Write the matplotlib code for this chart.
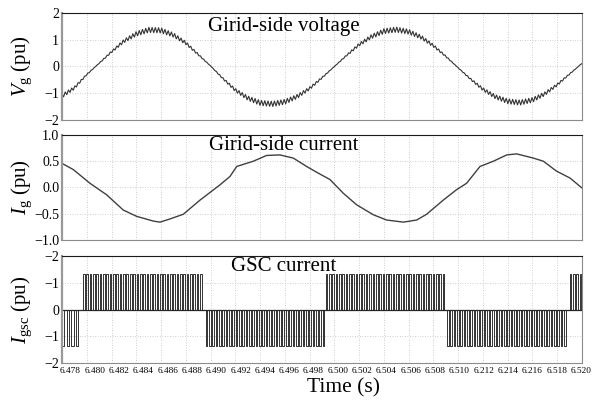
import numpy as np
import matplotlib
matplotlib.use("Agg")
import matplotlib.pyplot as plt

plt.rcParams["font.family"] = ["Liberation Serif", "DejaVu Serif"]
plt.rcParams["mathtext.fontset"] = "custom"
plt.rcParams["mathtext.rm"] = "Liberation Serif"
plt.rcParams["mathtext.it"] = "Liberation Serif:italic"

# time axis
t_min, t_max = 6.478, 6.520
x_ticks = [6.478, 6.480, 6.482, 6.484, 6.486, 6.488, 6.490, 6.492, 6.494, 6.496, 6.498,
           6.500, 6.502, 6.504, 6.506, 6.508, 6.510, 6.512, 6.514, 6.516, 6.518, 6.520]
x_tick_labels = ["6.478", "6.480", "6.482", "6.484", "6.486", "6.488", "6.490", "6.492",
                 "6.494", "6.496", "6.498", "6.500", "6.502", "6.504", "6.506", "6.508",
                 "6.510", "6.212", "6.214", "6.216", "6.518", "6.520"]

# grid-side voltage, read every 1 ms (mean of the rippled trace)
v_time = [6.478, 6.479, 6.480, 6.481, 6.482, 6.483, 6.484, 6.485, 6.486, 6.487, 6.488,
          6.489, 6.490, 6.491, 6.492, 6.493, 6.494, 6.495, 6.496, 6.497, 6.498, 6.499,
          6.500, 6.501, 6.502, 6.503, 6.504, 6.505, 6.506, 6.507, 6.508, 6.509, 6.510,
          6.511, 6.512, 6.513, 6.514, 6.515, 6.516, 6.517, 6.518, 6.519, 6.520]
v_grid = [-1.10, -0.80, -0.30, 0.12, 0.55, 0.95, 1.22, 1.37, 1.35, 1.18, 0.88,
          0.45, 0.02, -0.45, -0.88, -1.18, -1.36, -1.40, -1.32, -1.12, -0.82, -0.42,
          0.00, 0.42, 0.82, 1.12, 1.32, 1.38, 1.30, 1.10, 0.78, 0.38, -0.05,
          -0.47, -0.85, -1.13, -1.30, -1.35, -1.25, -1.02, -0.68, -0.28, 0.12]
# switching ripple on the voltage (fraction of |v|) and carrier period read from the zigzag
ripple_gain = 0.07
carrier_period = 0.00026

# grid-side current
i_time = [6.47800, 6.47892, 6.48026, 6.48161, 6.48295, 6.48403, 6.48538, 6.48592, 6.48672,
          6.48780, 6.48915, 6.49076, 6.49157, 6.49211, 6.49345, 6.49453, 6.49561, 6.49668,
          6.49776, 6.49857, 6.49965, 6.50072, 6.50180, 6.50315, 6.50422, 6.50557, 6.50665,
          6.50745, 6.50880, 6.50988, 6.51068, 6.51176, 6.51284, 6.51392, 6.51472, 6.51607,
          6.51688, 6.51795, 6.51903, 6.52000]
i_grid = [0.46, 0.34, 0.08, -0.14, -0.43, -0.55, -0.64, -0.66, -0.60,
          -0.51, -0.24, 0.05, 0.21, 0.40, 0.50, 0.61, 0.62, 0.56,
          0.40, 0.29, 0.15, -0.11, -0.33, -0.52, -0.62, -0.66, -0.62,
          -0.51, -0.24, -0.04, 0.08, 0.40, 0.50, 0.62, 0.64, 0.56,
          0.50, 0.31, 0.18, -0.01]

# GSC current: pulse trains (start, end, pulse level, pulse spacing)
gsc_start = [6.4780, 6.4797, 6.4896, 6.4993, 6.5091, 6.5190]
gsc_end = [6.4792, 6.4892, 6.4991, 6.5088, 6.5187, 6.5200]
gsc_level = [-1.35, 1.32, -1.36, 1.32, -1.36, 1.32]
gsc_period = [0.00038, 0.00027, 0.00027, 0.00027, 0.00027, 0.00027]

fig = plt.figure(figsize=(5.92, 4.04), dpi=100)
ax1 = fig.add_axes([0.1047, 0.703, 0.8784, 0.2648])
ax2 = fig.add_axes([0.1047, 0.406, 0.8784, 0.2599])
ax3 = fig.add_axes([0.1047, 0.1015, 0.8784, 0.2648])

# voltage with zigzag ripple
tz = np.arange(t_min, t_max, carrier_period / 2)
vz = np.interp(tz, v_time, v_grid)
sign = np.where(np.arange(len(tz)) % 2 == 0, 1.0, -1.0)
ax1.plot(tz, vz + ripple_gain * np.abs(vz) * sign, color="0.2", lw=0.8)

ax2.plot(i_time, i_grid, color="0.25", lw=1.0)

# build the pulse trains
gx, gy = [t_min], [0.0]
for s, e, lev, p in zip(gsc_start, gsc_end, gsc_level, gsc_period):
    for edge in np.arange(s, e, p):
        gx += [edge, edge, edge + p / 2, edge + p / 2]
        gy += [0.0, lev, lev, 0.0]
gx.append(t_max)
gy.append(0.0)
ax3.plot(gx, gy, color="0.2", lw=0.7)
ax3.axhline(0, color="0.15", lw=0.9)

panels = [
    (ax1, (-2, 2), [-2, -1, 0, 1, 2], ["\u22122", "\u22121", "0", "1", "2"],
     r"$V_{\rm g}$ (pu)", "Girid-side voltage", 0.87),
    (ax2, (-1, 1), [-1.0, -0.5, 0.0, 0.5, 1.0], ["\u22121.0", "\u22120.5", "0.0", "0.5", "1.0"],
     r"$I_{\rm g}$ (pu)", "Girid-side current", 0.90),
    (ax3, (-2, 2), [-2, -1, 0, 1, 2], ["\u22122", "\u22121", "0", "\u22121", "\u22122"],
     r"$I_{\rm gsc}$ (pu)", "GSC current", 0.90),
]
for ax, ylim, yt, ytl, ylab, title, ty in panels:
    ax.set_xlim(t_min, t_max)
    ax.set_ylim(*ylim)
    ax.set_yticks(yt)
    ax.set_yticklabels(ytl, fontsize=10)
    ax.set_xticks(x_ticks)
    ax.set_xticklabels([])
    ax.grid(True, color="0.75", lw=0.6, linestyle=(0, (1, 2)))
    ax.tick_params(length=0, pad=2)
    ax.text(0.427, ty, title, transform=ax.transAxes, ha="center", va="center", fontsize=15)
    ax.spines["left"].set_color("0.6")
    ax.spines["left"].set_linewidth(1.6)
    ax.spines["top"].set_color("0.1")
    ax.spines["right"].set_color("0.55")
    ax.spines["bottom"].set_color("0.55")
    # y label centred on the panel
    pos = ax.get_position()
    fig.text(22 / 592, (pos.y0 + pos.y1) / 2, ylab, rotation=90,
             ha="center", va="center", fontsize=15)

# the printed time labels sit slightly right of their ticks
label_pos = np.linspace(0.0163, 0.998, len(x_tick_labels))
for xp, lab in zip(label_pos, x_tick_labels):
    ax3.text(xp, -0.035, lab, transform=ax3.transAxes, ha="center", va="top", fontsize=6.7)

fig.text(344 / 592, 1 - 388 / 404, "Time (s)", ha="center", va="center", fontsize=15.5)

fig.savefig("out.png", dpi=100)
